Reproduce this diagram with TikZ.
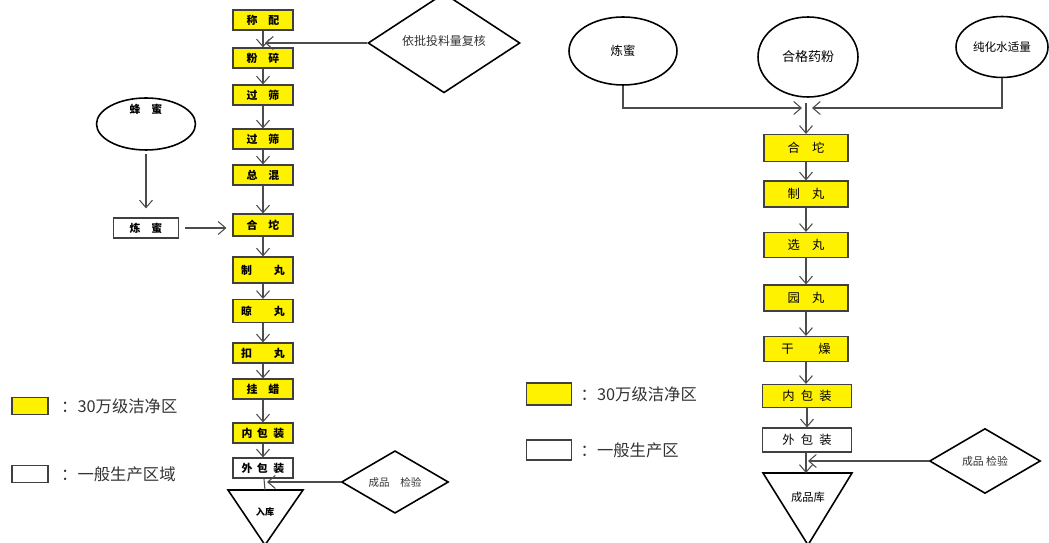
\documentclass[tikz,border=0pt]{standalone}
\usepackage{fontspec}
\newfontfamily\cjk{Noto Sans CJK SC}
\usetikzlibrary{arrows.meta,shapes.geometric,positioning}
\tikzset{%
  >={Straight Barb[length=1.5mm,width=2.6mm]},
  % Specifications for style of nodes:
            base/.style = {rectangle, draw=black!75, line width=0.65pt,
                           inner sep=0pt, text centered, font=\cjk},
       leftbox/.style = {base, fill=yellow, minimum width=1.2cm,
                           minimum height=0.4cm,
                           font=\cjk\bfseries\fontsize{6.2}{7}\selectfont},
    leftwhite/.style = {leftbox, fill=white},
      rightbox/.style = {base, fill=yellow, minimum width=1.68cm,
                           minimum height=0.5cm,
                           font=\cjk\fontsize{7}{8}\selectfont},
    rightwhite/.style = {rightbox, fill=white},
      oval/.style = {ellipse, draw=black, line width=0.9pt, inner sep=0pt,
                           font=\cjk\fontsize{7}{8}\selectfont},
      check/.style = {diamond, draw=black, line width=0.9pt, inner sep=0pt,
                           text=black!80, font=\cjk\fontsize{6.8}{7}\selectfont},
      legbox/.style = {base, line width=1pt, minimum width=0.72cm,
                           minimum height=0.34cm},
      legtext/.style = {font=\cjk\fontsize{9.3}{11}\selectfont, text=black!80,
                           inner sep=0pt, anchor=west},
      flow/.style = {->, draw=black!70, line width=0.6pt},
}
\begin{document}
\begin{tikzpicture}[x=0.02cm, y=-0.02cm]
  \useasboundingbox (0,0) rectangle (1049,543);
  % Left process line
  \node (cheng)  [leftbox] at (263,20)  {称\quad 配};
  \node (fen)    [leftbox] at (263,58)  {粉\quad 碎};
  \node (guoa)   [leftbox] at (263,95)  {过\quad 筛};
  \node (guob)   [leftbox] at (263,139) {过\quad 筛};
  \node (zong)   [leftbox] at (263,175) {总\quad 混};
  \node (hetuo)  [leftbox, minimum height=0.44cm] at (263,225) {合\quad 坨};
  \node (zhi)    [leftbox, minimum height=0.52cm] at (263,270) {制\qquad 丸};
  \node (liang)  [leftbox, minimum height=0.46cm] at (263,311) {晾\qquad 丸};
  \node (kou)    [leftbox] at (263,353) {扣\qquad 丸};
  \node (gua)    [leftbox] at (263,389) {挂\quad 蜡};
  \node (nei)    [leftbox] at (263,433) {内\, 包\; 装};
  \node (wai)    [leftwhite] at (263,468) {外\, 包\; 装};
  \node (ruku)   [font=\cjk\bfseries\fontsize{5.2}{6}\selectfont] at (265,512) {入库};
  \coordinate (rukutop) at (265,490);
  \draw[line width=0.9pt] (228,490) -- (303,490) -- (265,545) -- cycle;

  \node (fengmi) [oval, minimum width=1.98cm, minimum height=1.04cm,
      label={[font=\cjk\bfseries\fontsize{6.2}{7}\selectfont, yshift=0.3cm]center:蜂\quad 蜜}]
      at (146,124) {};
  \node (lianmi) [leftwhite, minimum width=1.3cm] at (146,228) {炼\quad 蜜};
  \node (fuhe)   [check, minimum width=3.04cm, minimum height=1.24cm] at (444,43)
      {\raisebox{0.12cm}{依批投料量复核}};
  \node (jianyan) [check, minimum width=2.14cm, minimum height=1.16cm,
      font=\cjk\fontsize{6}{6}\selectfont] at (395,482) {成品\quad 检验};
  \coordinate (fuhein) at (265,43);
  \coordinate (jianin) at (267,482);

  \foreach \a/\b in {cheng/fen, fen/guoa, guoa/guob, guob/zong, zong/hetuo,
      hetuo/zhi, zhi/liang, liang/kou, kou/gua, gua/nei, nei/wai}
    \draw[flow] (\a) -- (\b);
  \draw[draw=black!70, line width=0.6pt] (wai) -- (rukutop);
  \draw[flow] (fuhe.west) -- (fuhein);
  \draw[flow] (jianyan.west) -- (jianin);
  \draw[flow, shorten <=0.06cm, shorten >=0.18cm] (fengmi) -- (lianmi);
  \draw[flow, shorten <=0.12cm, shorten >=0.12cm] (lianmi) -- (lianmi -| hetuo.west);

  % Left legend
  \node (legy) [legbox, fill=yellow] at (30,406) {};
  \node (legytext) [legtext, right=0.24cm of legy] {：30万级洁净区};
  \node (legw) [legbox, fill=white] at (30,474) {};
  \node (legwtext) [legtext, right=0.24cm of legw] {：一般生产区域};

  % Right process line
  \node (mi)     [oval, minimum width=2.16cm, minimum height=1.36cm] at (623,51) {炼蜜};
  \node (yaofen) [oval, minimum width=2cm, minimum height=1.6cm,
      font=\cjk\fontsize{7.4}{8}\selectfont] at (808,57) {合格药粉};
  \node (shui)   [oval, minimum width=1.84cm, minimum height=1.22cm,
      font=\cjk\fontsize{6.6}{7}\selectfont] at (1002,47) {纯化水适量};
  \coordinate (hubl) at (802,108);
  \coordinate (hubr) at (812,108);
  \coordinate (hubt) at (806,103);

  \node (hetuob) [rightbox, minimum height=0.54cm] at (806,148) {合\quad 坨};
  \node (zhib)   [rightbox, minimum height=0.52cm] at (806,194) {制\quad 丸};
  \node (xuan)   [rightbox] at (806,245) {选\quad 丸};
  \node (yuan)   [rightbox, minimum height=0.52cm] at (806,298) {园\quad 丸};
  \node (gan)    [rightbox] at (806,349) {干\qquad 燥};
  \node (neib)   [rightbox, minimum width=1.78cm, minimum height=0.46cm] at (807,396) {内\; 包\; 装};
  \node (waib)   [rightwhite, minimum width=1.78cm, minimum height=0.48cm] at (807,440) {外\; 包\; 装};
  \node (ku)     [font=\cjk\fontsize{6.4}{7}\selectfont] at (808,497) {成品库};
  \coordinate (kutop) at (806,473);
  \draw[line width=0.9pt] (763,473) -- (852,473) -- (808,545) -- cycle;
  \node (jianyanb) [check, minimum width=2.22cm, minimum height=1.3cm,
      font=\cjk\fontsize{6.2}{7}\selectfont] at (985,461) {成品 检验};
  \coordinate (jianinb) at (808,461);

  \draw[flow] (mi) |- (hubl);
  \draw[flow] (shui) |- (hubr);
  \draw[flow] (hubt) -- (hetuob);
  \foreach \a/\b in {hetuob/zhib, zhib/xuan, xuan/yuan, yuan/gan, gan/neib,
      neib/waib}
    \draw[flow] (\a.south) -- (\a.south |- \b.north);
  \draw[flow] (waib.south -| kutop) -- (kutop);
  \draw[flow] (jianyanb.west) -- (jianinb);

  % Right legend
  \node (legyb) [legbox, fill=yellow, minimum width=0.9cm, minimum height=0.44cm] at (549,394) {};
  \node (legybtext) [legtext, right=0.16cm of legyb] {：30万级洁净区};
  \node (legwb) [legbox, fill=white, minimum width=0.9cm, minimum height=0.4cm] at (549,450) {};
  \node (legwbtext) [legtext, right=0.16cm of legwb] {：一般生产区};
\end{tikzpicture}
\end{document}
